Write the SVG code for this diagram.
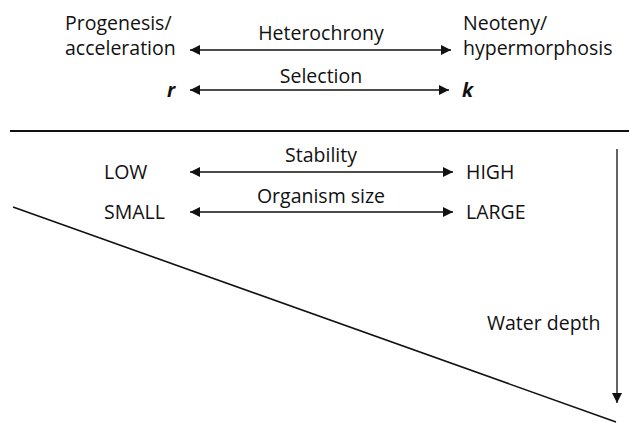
<svg xmlns="http://www.w3.org/2000/svg" width="629" height="423" viewBox="0 0 629 423">
<style>
text{font-family:"Open Sans","Liberation Sans",sans-serif;font-size:19.5px;fill:#111}
.c{text-anchor:middle}
.bi{font-weight:bold;font-style:italic}
.ln{stroke:#111;stroke-width:1.3;fill:none}
</style>
<defs>
<marker id="a" viewBox="0 0 10 10" refX="10" refY="5" markerWidth="13" markerHeight="10" markerUnits="userSpaceOnUse" orient="auto-start-reverse"><path d="M0,0L10,5L0,10Z" fill="#111"/></marker>
</defs>
<rect width="629" height="423" fill="#fff"/>
<g id="connectors">
<line class="ln" x1="190" y1="50" x2="451" y2="50" marker-start="url(#a)" marker-end="url(#a)"/>
<line class="ln" x1="190" y1="90" x2="449" y2="90" marker-start="url(#a)" marker-end="url(#a)"/>
<line class="ln" x1="190" y1="172" x2="453" y2="172" marker-start="url(#a)" marker-end="url(#a)"/>
<line class="ln" x1="190" y1="212" x2="453" y2="212" marker-start="url(#a)" marker-end="url(#a)"/>
<line class="ln" x1="617" y1="149" x2="617" y2="403" marker-end="url(#a)"/>
</g>
<g id="divider"><line x1="10" y1="131" x2="629" y2="131" stroke="#111" stroke-width="2"/></g>
<g id="seafloor"><line x1="13" y1="207" x2="616" y2="422" stroke="#111" stroke-width="1.6"/></g>
<g id="heterochrony">
<text x="65" y="30">Progenesis/</text>
<text x="65" y="55">acceleration</text>
<text class="c" x="321" y="40">Heterochrony</text>
<text x="463" y="30">Neoteny/</text>
<text x="463" y="55">hypermorphosis</text>
</g>
<g id="selection">
<text class="bi" x="167" y="97">r</text>
<text class="c" x="321" y="83">Selection</text>
<text class="bi" x="462" y="97">k</text>
</g>
<g id="stability">
<text x="104" y="179">LOW</text>
<text class="c" x="321" y="162">Stability</text>
<text x="466" y="179">HIGH</text>
</g>
<g id="size">
<text x="104" y="219">SMALL</text>
<text class="c" x="321" y="203">Organism size</text>
<text x="466" y="219">LARGE</text>
</g>
<g id="depth"><text x="487" y="330">Water depth</text></g>
</svg>
